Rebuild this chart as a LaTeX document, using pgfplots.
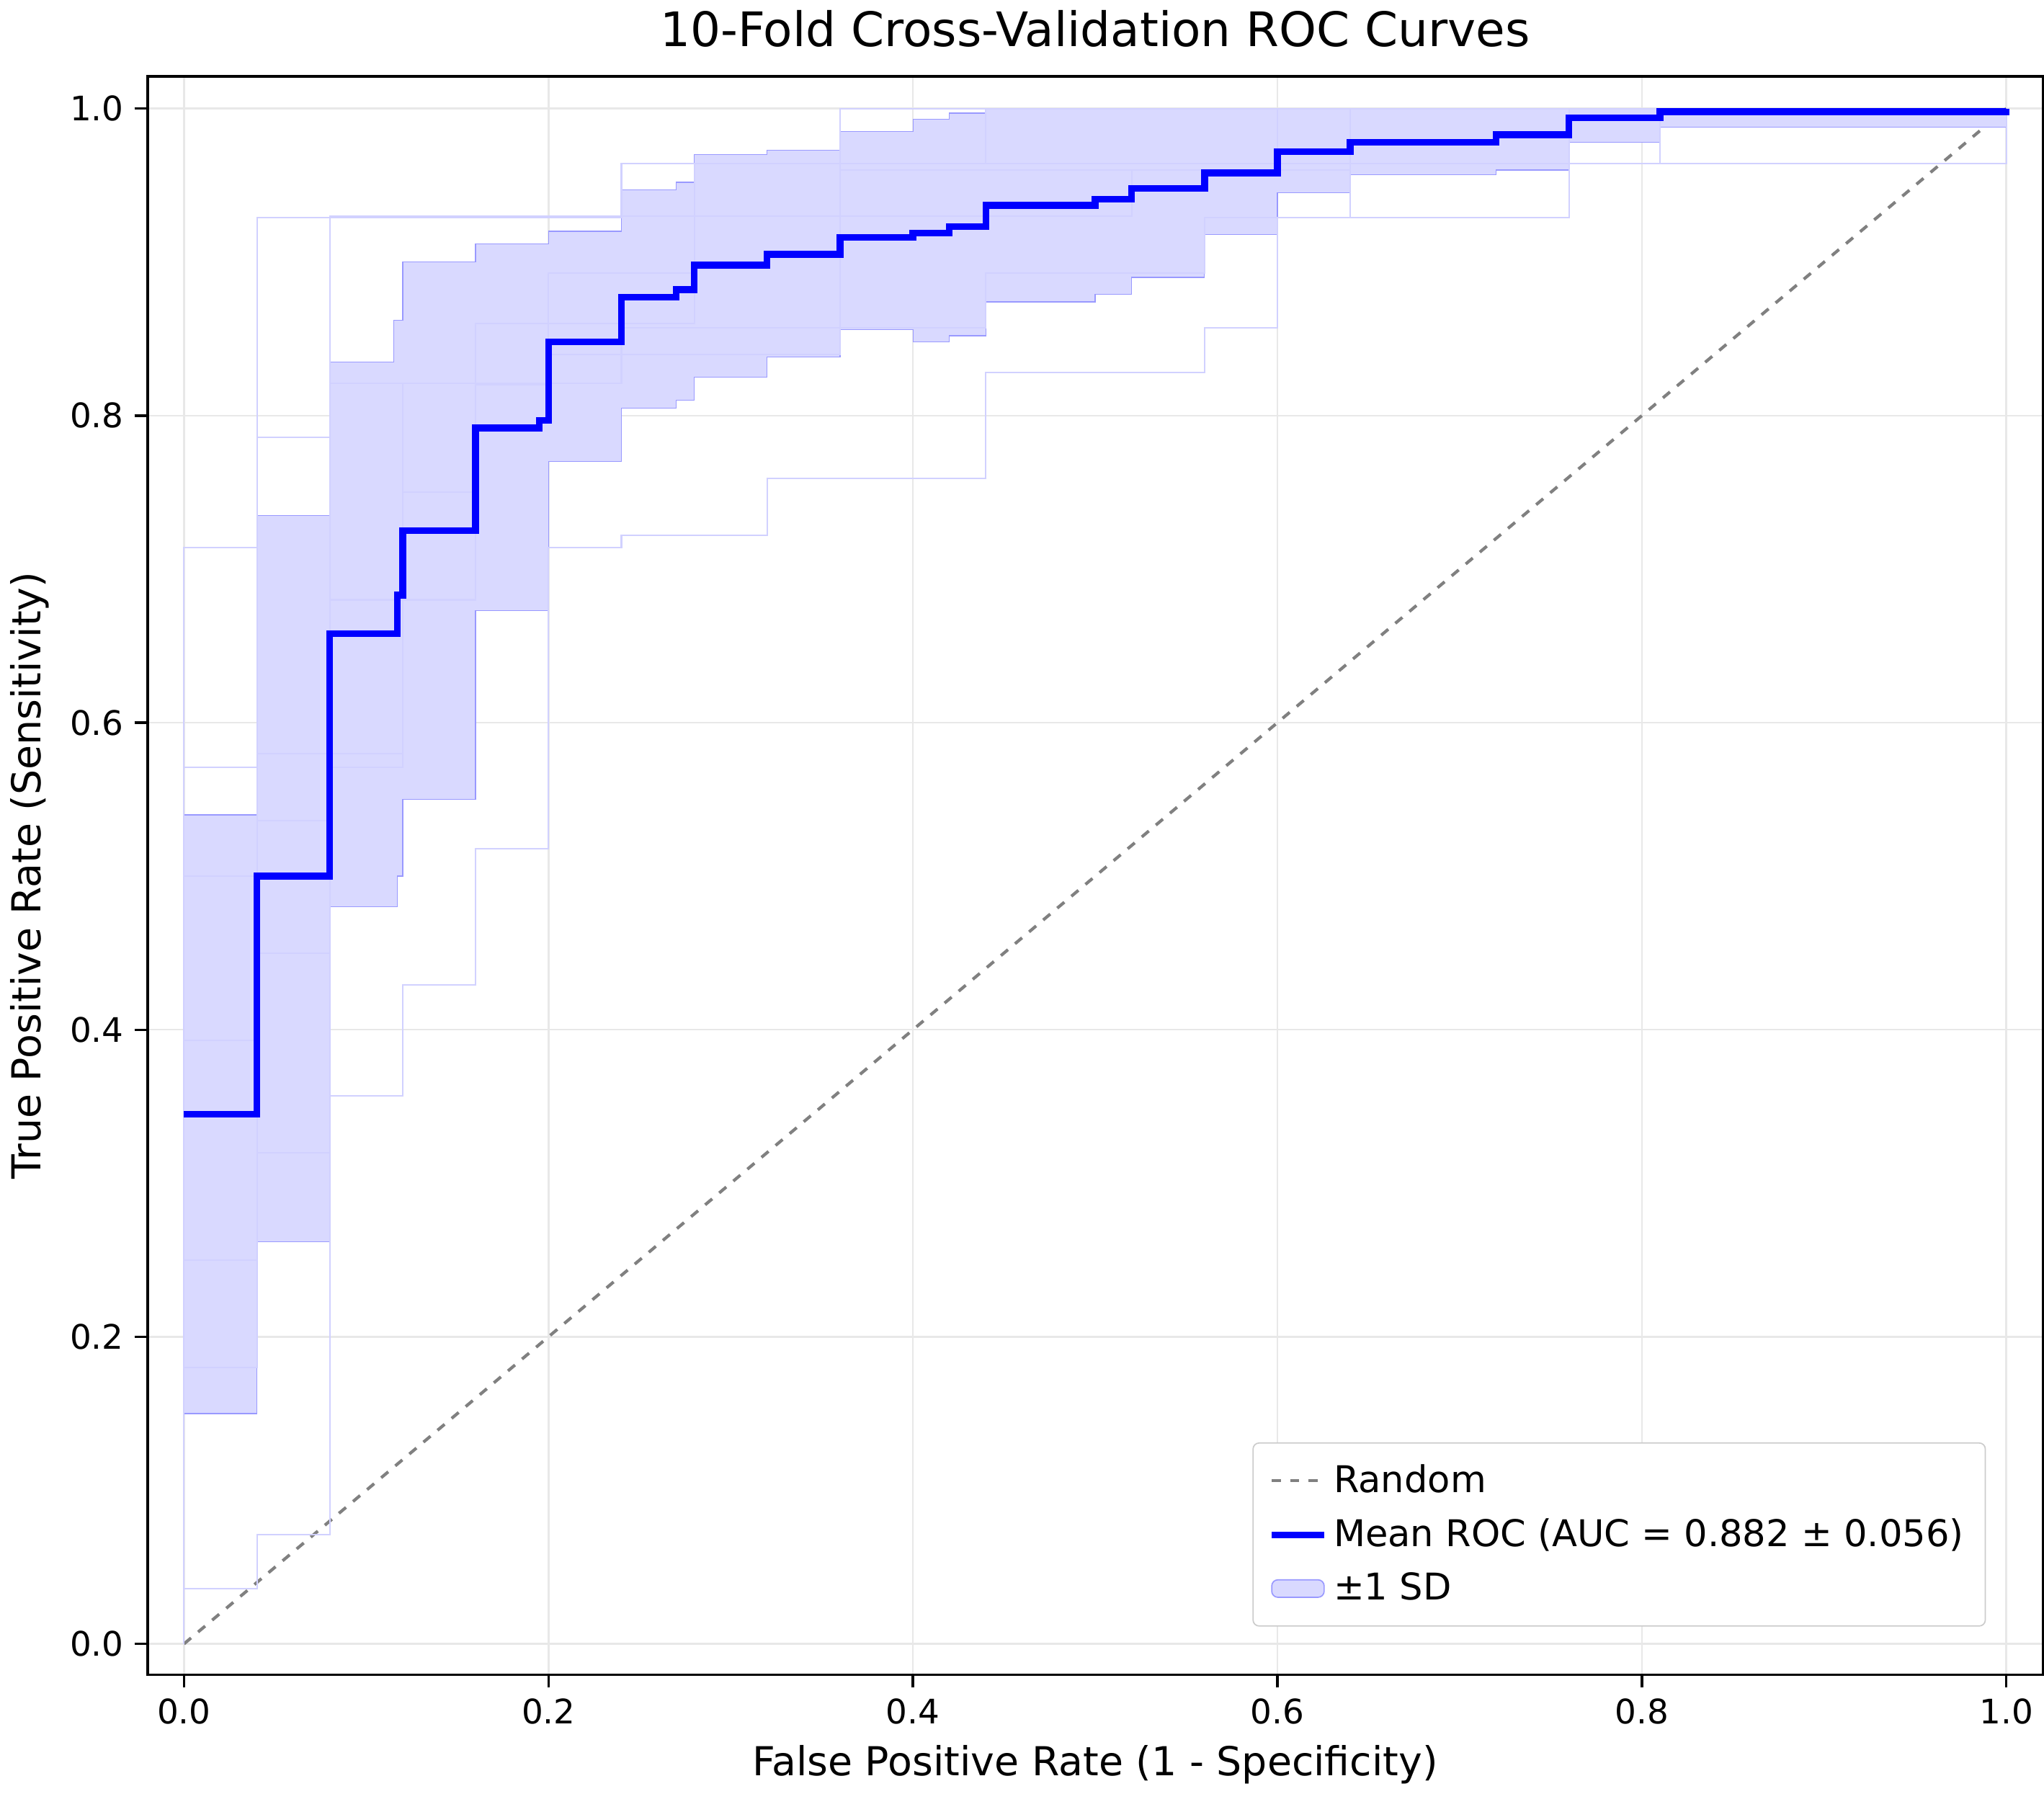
\documentclass[border=0pt]{standalone}
\usepackage{pgfplots}
\pgfplotsset{compat=1.18}
\usepackage{fontspec}
\setmainfont{DejaVu Sans}
\definecolor{bandc}{RGB}{217,217,255}
\begin{document}
\begin{tikzpicture}
\begin{axis}[scale only axis, width=21.7cm, height=18.3cm,
 xmin=-0.02, xmax=1.02, ymin=-0.02, ymax=1.021,
 xtick={0,0.2,...,1}, ytick={0,0.2,...,1},
 tick align=outside, xtick pos=bottom, ytick pos=left,
 /pgf/number format/.cd, fixed, fixed zerofill, precision=1, assume math mode=true, /pgfplots/.cd,
 tick label style={font=\fontsize{11}{13}\selectfont},
 grid=major, grid style={gray!18, line width=0.6pt},
 title={10-Fold Cross-Validation ROC Curves}, title style={font=\fontsize{15.5}{18}\selectfont},
 xlabel={False Positive Rate (1 - Specificity)}, ylabel={True Positive Rate (Sensitivity)},
 label style={font=\fontsize{13}{16}\selectfont},
 legend pos=south east, legend cell align=left,
 legend style={font=\fontsize{12}{15}\selectfont, draw=gray!40, rounded corners=2pt, inner sep=5pt, row sep=3pt},
 axis line style={line width=0.8pt}, tick style={black, line width=0.8pt},
]
\addplot[gray, dashed, line width=1pt] coordinates {(0,0) (1,1)};
\addlegendentry{Random}
% band
\addplot[fill=bandc, draw=blue!40, line width=0.3pt, forget plot] coordinates {
(0,0.54)(0.04,0.54)(0.04,0.735)(0.08,0.735)(0.08,0.835)(0.115,0.835)(0.115,0.862)(0.12,0.862)(0.12,0.9)(0.16,0.9)(0.16,0.912)(0.2,0.912)(0.2,0.92)(0.24,0.92)(0.24,0.947)(0.27,0.947)(0.27,0.952)(0.28,0.952)(0.28,0.97)(0.32,0.97)(0.32,0.973)(0.36,0.973)(0.36,0.985)(0.4,0.985)(0.4,0.993)(0.42,0.993)(0.42,0.997)(0.44,0.997)(0.44,1)(1,1)
(1,0.988)(0.81,0.988)(0.81,0.978)(0.76,0.978)(0.76,0.96)(0.72,0.96)(0.72,0.957)(0.64,0.957)(0.64,0.945)(0.6,0.945)(0.6,0.918)(0.56,0.918)(0.56,0.89)(0.52,0.89)(0.52,0.879)(0.5,0.879)(0.5,0.874)(0.44,0.874)(0.44,0.852)(0.42,0.852)(0.42,0.848)(0.4,0.848)(0.4,0.856)(0.36,0.856)(0.36,0.838)(0.32,0.838)(0.32,0.825)(0.28,0.825)(0.28,0.81)(0.27,0.81)(0.27,0.805)(0.24,0.805)(0.24,0.77)(0.2,0.77)(0.2,0.673)(0.16,0.673)(0.16,0.55)(0.12,0.55)(0.12,0.5)(0.117,0.5)(0.117,0.48)(0.08,0.48)(0.08,0.262)(0.04,0.262)(0.04,0.15)(0,0.15)} -- cycle;
% folds
\pgfplotsset{fold/.style={blue!18, line width=0.5pt, forget plot}}
\addplot[fold] coordinates {(0,0)(0,0.714)(0.04,0.714)(0.04,0.929)(0.24,0.929)(0.24,0.964)(0.76,0.964)(0.76,1)(1,1)};
\addplot[fold] coordinates {(0,0)(0,0.036)(0.04,0.036)(0.04,0.071)(0.08,0.071)(0.08,0.25)(0.08,0.357)(0.12,0.357)(0.12,0.429)(0.16,0.429)(0.16,0.518)(0.2,0.518)(0.2,0.714)(0.24,0.714)(0.24,0.722)(0.32,0.722)(0.32,0.759)(0.44,0.759)(0.44,0.828)(0.56,0.828)(0.56,0.857)(0.6,0.857)(0.6,0.929)(0.76,0.929)(0.76,0.964)(0.81,0.964)(0.81,1)(1,1)};
\addplot[fold] coordinates {(0,0)(0,0.571)(0.04,0.571)(0.04,0.786)(0.08,0.786)(0.08,0.821)(0.2,0.821)(0.2,0.893)(0.28,0.893)(0.28,0.964)(0.44,0.964)(0.44,1)(1,1)};
\addplot[fold] coordinates {(0,0)(0,0.393)(0.04,0.393)(0.04,0.536)(0.08,0.536)(0.08,0.571)(0.12,0.571)(0.12,0.821)(0.24,0.821)(0.24,0.857)(0.44,0.857)(0.44,0.893)(0.56,0.893)(0.56,0.929)(0.64,0.929)(0.64,0.964)(1,0.964)(1,1)};
\addplot[fold] coordinates {(0,0)(0,0.18)(0.04,0.18)(0.04,0.32)(0.08,0.32)(0.08,0.68)(0.16,0.68)(0.16,0.82)(0.2,0.82)(0.2,0.84)(0.36,0.84)(0.36,0.96)(0.6,0.96)(0.6,1)(1,1)};
\addplot[fold] coordinates {(0,0)(0,0.5)(0.04,0.5)(0.04,0.45)(0.08,0.45)(0.08,0.93)(0.2,0.93)(0.2,0.93)(0.36,0.93)(0.36,1)(1,1)};
\addplot[fold] coordinates {(0,0)(0,0.25)(0.04,0.25)(0.04,0.58)(0.12,0.58)(0.12,0.75)(0.16,0.75)(0.16,0.86)(0.28,0.86)(0.28,0.93)(0.52,0.93)(0.52,0.96)(0.64,0.96)(0.64,1)(1,1)};
\addplot[blue, line width=2.2pt] coordinates {
(0,0.345)(0.04,0.345)(0.04,0.5)(0.08,0.5)(0.08,0.658)(0.117,0.658)(0.117,0.683)(0.12,0.683)(0.12,0.725)(0.16,0.725)(0.16,0.792)(0.195,0.792)(0.195,0.797)(0.2,0.797)(0.2,0.848)(0.24,0.848)(0.24,0.877)(0.27,0.877)(0.27,0.882)(0.28,0.882)(0.28,0.898)(0.32,0.898)(0.32,0.905)(0.36,0.905)(0.36,0.916)(0.4,0.916)(0.4,0.919)(0.42,0.919)(0.42,0.923)(0.44,0.923)(0.44,0.937)(0.5,0.937)(0.5,0.941)(0.52,0.941)(0.52,0.948)(0.56,0.948)(0.56,0.958)(0.6,0.958)(0.6,0.972)(0.64,0.972)(0.64,0.978)(0.72,0.978)(0.72,0.983)(0.76,0.983)(0.76,0.994)(0.81,0.994)(0.81,0.998)(1,0.998)(1,1)};
\addlegendentry{Mean ROC (AUC = 0.882 ± 0.056)}
\addlegendimage{area legend, fill=bandc, draw=blue!40}
\addlegendentry{±1 SD}
\end{axis}
\end{tikzpicture}
\end{document}
